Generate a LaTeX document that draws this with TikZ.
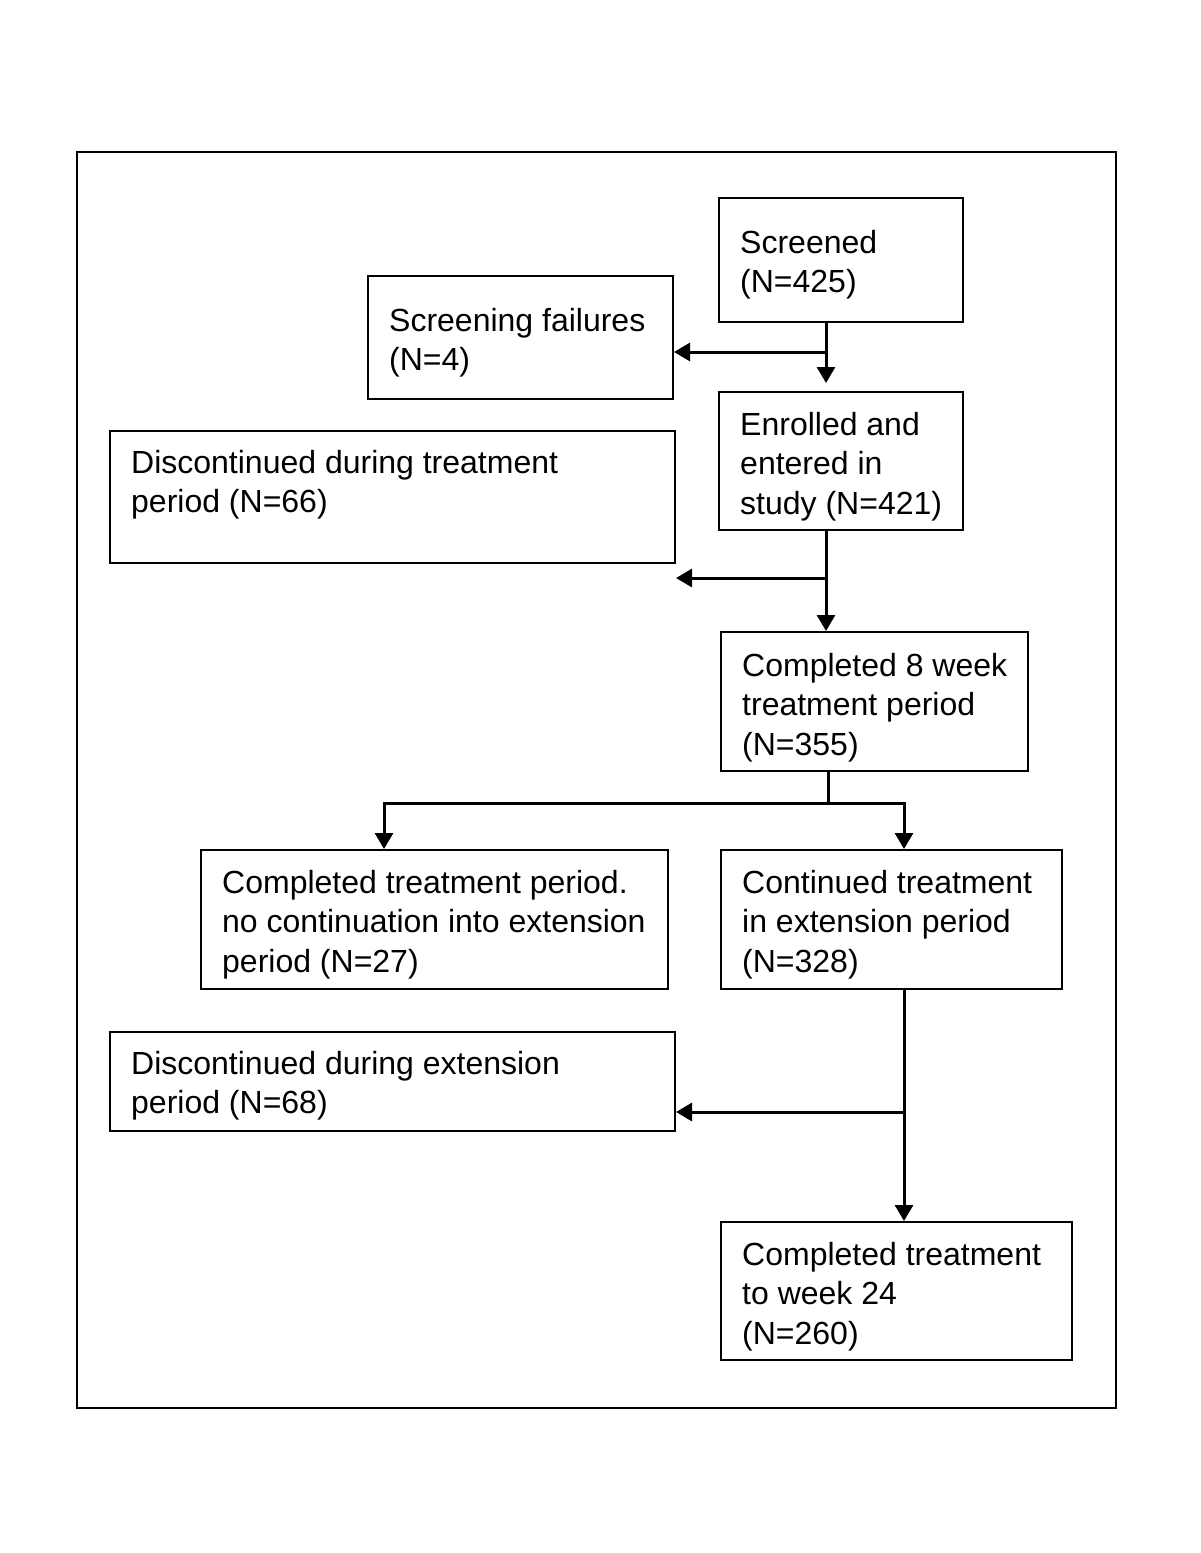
\documentclass[tikz,border=0pt]{standalone}
\usepackage{fontspec}
\setmainfont{Liberation Sans}
\usetikzlibrary{arrows.meta}
\begin{document}
\begin{tikzpicture}[x=1pt,y=-1pt,
  box/.style={draw=black,line width=2pt,inner sep=0pt,anchor=north west,rectangle},
  txt/.style={inner sep=0pt,anchor=base west,font=\fontsize{32}{39.5}\selectfont},
  conn/.style={draw=black,line width=3pt},
  arr/.style={conn,-{Triangle[length=16pt,width=18pt]}}
]
\useasboundingbox (0,0) rectangle (1200,1553);
% outer frame
\node[box,minimum width=1039pt,minimum height=1256pt] (frame) at (76,151) {};
% boxes
\node[box,minimum width=244pt,minimum height=124pt] (scr)  at (718,197) {};
\node[box,minimum width=305pt,minimum height=123pt] (sf)   at (367,275) {};
\node[box,minimum width=244pt,minimum height=138pt] (enr)  at (718,391) {};
\node[box,minimum width=565pt,minimum height=132pt] (dt)   at (109,430) {};
\node[box,minimum width=307pt,minimum height=139pt] (c8)   at (720,631) {};
\node[box,minimum width=467pt,minimum height=139pt] (cnc)  at (200,849) {};
\node[box,minimum width=341pt,minimum height=139pt] (cont) at (720,849) {};
\node[box,minimum width=565pt,minimum height=99pt]  (de)   at (109,1031) {};
\node[box,minimum width=351pt,minimum height=138pt] (w24)  at (720,1221) {};
% texts
\node[txt] (scrT)  at (740,253)  {\vtop{\hbox{Screened}\hbox{(N=425)}}};
\node[txt] (sfT)   at (389,331)  {\vtop{\hbox{Screening failures}\hbox{(N=4)}}};
\node[txt] (enrT)  at (740,435)  {\vtop{\hbox{Enrolled and}\hbox{entered in}\hbox{study (N=421)}}};
\node[txt] (dtT)   at (131,473)  {\vtop{\hbox{Discontinued during treatment}\hbox{period (N=66)}}};
\node[txt] (c8T)   at (742,676)  {\vtop{\hbox{Completed 8 week}\hbox{treatment period}\hbox{(N=355)}}};
\node[txt] (cncT)  at (222,893)  {\vtop{\hbox{Completed treatment period.}\hbox{no continuation into extension}\hbox{period (N=27)}}};
\node[txt] (contT) at (742,893)  {\vtop{\hbox{Continued treatment}\hbox{in extension period}\hbox{(N=328)}}};
\node[txt] (deT)   at (131,1074) {\vtop{\hbox{Discontinued during extension}\hbox{period (N=68)}}};
\node[txt] (w24T)  at (742,1265) {\vtop{\hbox{Completed treatment}\hbox{to week 24}\hbox{(N=260)}}};
% junctions
\coordinate (j1) at (826,352);
\coordinate (j2) at (826,578);
\coordinate (j3) at (828,803);
\coordinate (jl) at (384,803);
\coordinate (jr) at (904,803);
\coordinate (j4) at (904,1112);
% connectors
\draw[conn] (scr.south -| j1) -- (j1);
\draw[arr,shorten >=8pt] (j1) -- (enr.north -| j1);
\draw[arr] (j1) -- (sf.east |- j1);
\draw[conn] (enr.south -| j2) -- (j2);
\draw[arr] (j2) -- (c8.north -| j2);
\draw[arr] (j2) -- (dt.east |- j2);
\draw[conn] (c8.south -| j3) -- (j3);
\draw[arr] (j3) -- (jl) -- (cnc.north -| jl);
\draw[arr] (j3) -- (jr) -- (cont.north -| jr);
\draw[conn] (cont.south -| j4) -- (j4);
\draw[arr] (j4) -- (w24.north -| j4);
\draw[arr] (j4) -- (de.east |- j4);
\end{tikzpicture}
\end{document}
